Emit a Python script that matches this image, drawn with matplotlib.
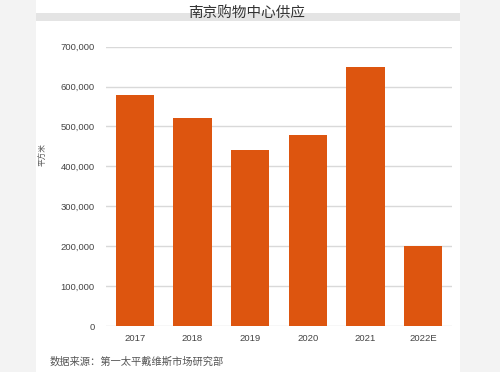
import matplotlib.pyplot as plt
from matplotlib.patches import Rectangle

plt.rcParams['font.family'] = ['Liberation Sans', 'Noto Sans CJK SC', 'DejaVu Sans']

years = ["2017", "2018", "2019", "2020", "2021", "2022E"]
supply = [578000, 522000, 441000, 479000, 650000, 200000]
yticks = [0, 100000, 200000, 300000, 400000, 500000, 600000, 700000]

fig = plt.figure(figsize=(5, 3.72), dpi=100)
fig.patch.set_facecolor('#f3f3f3')

# white panel and grey title band
fig.add_artist(Rectangle((36 / 500, 0), 424 / 500, 1, transform=fig.transFigure,
                         facecolor='white', edgecolor='none', zorder=0))
fig.add_artist(Rectangle((36 / 500, 1 - 21 / 372), 424 / 500, 8 / 372, transform=fig.transFigure,
                         facecolor='#e4e4e4', edgecolor='none', zorder=1))
fig.text(247 / 500, 1 - 13 / 372, "南京购物中心供应", ha='center', va='center',
         fontsize=10.5, color='#333333', zorder=2)

ax = fig.add_axes([106 / 500, 46 / 372, 346 / 500, 279.3 / 372])
ax.set_facecolor('none')
ax.bar(range(len(years)), supply, width=0.66, color='#DD550F', zorder=3)

ax.set_xlim(-0.5, len(years) - 0.5)
ax.set_ylim(0, 700000)
ax.set_yticks(yticks)
ax.set_yticklabels([f"{v:,}" for v in yticks])
ax.set_xticks(range(len(years)))
ax.set_xticklabels(years)
ax.grid(axis='y', color='#d9d9d9', linewidth=1, zorder=0)
ax.tick_params(axis='both', length=0, labelsize=6.8, colors='#444444')
ax.tick_params(axis='y', pad=8)
ax.tick_params(axis='x', pad=6)
for s in ax.spines.values():
    s.set_visible(False)

fig.text(43 / 500, 1 - 155 / 372, "平方米", rotation=90, ha='center', va='center',
         fontsize=5.5, color='#555555')
fig.text(50 / 500, 1 - 362 / 372, "数据来源：第一太平戴维斯市场研究部", ha='left', va='center',
         fontsize=7.4, color='#555555')

fig.savefig("out.png", dpi=100, facecolor=fig.get_facecolor())
